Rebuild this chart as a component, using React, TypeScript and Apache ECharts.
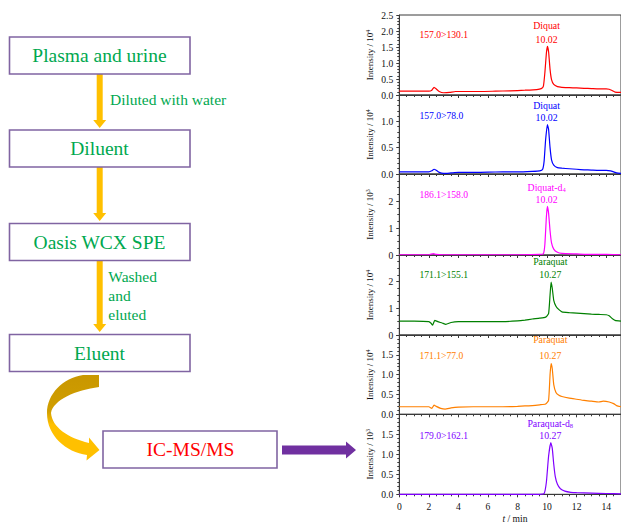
import React, { useEffect, useRef } from 'react';
import * as echarts from 'echarts';

const SERIF = '"Liberation Serif", "Times New Roman", serif';

// ---------- chromatogram data: [t (min), intensity] ----------
const diquat130 = [
  [0, 0.12], [1, 0.12], [2, 0.12], [2.2, 0.15], [2.35, 0.24], [2.5, 0.19], [2.7, 0.11], [3.0, 0.07],
  [3.4, 0.08], [3.8, 0.11], [4.5, 0.11], [5.5, 0.11], [6.5, 0.12], [7.5, 0.13], [8.5, 0.15], [9.3, 0.17],
  [9.6, 0.2], [9.75, 0.28], [9.85, 0.7], [9.95, 1.3], [10.02, 1.52], [10.1, 1.35], [10.2, 0.8], [10.3, 0.48],
  [10.45, 0.33], [10.7, 0.26], [11, 0.24], [11.5, 0.23], [12, 0.22], [12.5, 0.21], [13, 0.2], [13.5, 0.19],
  [14, 0.19], [14.2, 0.18], [14.4, 0.14], [14.6, 0.09], [15, 0.08],
];
const diquat78 = [
  [0, 0.04], [1, 0.04], [2, 0.04], [2.2, 0.06], [2.35, 0.09], [2.5, 0.07], [2.7, 0.03], [3.0, 0.01],
  [3.5, 0.02], [4, 0.03], [5, 0.03], [6, 0.035], [7, 0.04], [8, 0.04], [9, 0.05], [9.5, 0.06], [9.7, 0.09],
  [9.8, 0.25], [9.9, 0.65], [10.02, 0.94], [10.1, 0.85], [10.2, 0.5], [10.3, 0.27], [10.45, 0.17],
  [10.7, 0.12], [11, 0.11], [11.5, 0.1], [12, 0.09], [12.5, 0.08], [13, 0.075], [13.5, 0.07], [14, 0.07],
  [14.3, 0.06], [14.5, 0.04], [14.7, 0.02], [15, 0.01],
];
const diquatD4 = [
  [0, 0.01], [2, 0.01], [2.3, 0.05], [2.5, 0.02], [3, 0.01], [5, 0.01], [8, 0.01], [9.5, 0.02], [9.75, 0.05],
  [9.85, 0.4], [9.95, 1.4], [10.02, 1.8], [10.1, 1.55], [10.2, 0.9], [10.3, 0.45], [10.45, 0.22], [10.7, 0.1],
  [11, 0.06], [12, 0.04], [13, 0.02], [14, 0.02], [15, 0.01],
];
const paraquat155 = [
  [0, 0.52], [1, 0.52], [2, 0.5], [2.15, 0.44], [2.25, 0.37], [2.4, 0.55], [2.6, 0.5], [2.9, 0.45], [3.15, 0.4],
  [3.5, 0.47], [4, 0.5], [5, 0.5], [6, 0.5], [7, 0.5], [8, 0.53], [8.5, 0.56], [9, 0.6], [9.5, 0.63], [9.9, 0.67],
  [10.1, 0.8], [10.2, 1.5], [10.27, 1.98], [10.35, 1.75], [10.45, 1.3], [10.6, 1.08], [10.8, 0.95], [11, 0.87],
  [11.5, 0.84], [12, 0.82], [12.5, 0.8], [13, 0.78], [13.5, 0.77], [14, 0.76], [14.2, 0.72], [14.4, 0.62],
  [14.6, 0.55], [15, 0.52],
];
const paraquat77 = [
  [0, 0.19], [1, 0.19], [2, 0.19], [2.2, 0.15], [2.35, 0.23], [2.5, 0.2], [2.8, 0.15], [3.1, 0.13], [3.5, 0.16],
  [4, 0.18], [5, 0.19], [6, 0.19], [7, 0.19], [8, 0.2], [8.5, 0.21], [9, 0.22], [9.5, 0.24], [9.9, 0.26],
  [10.1, 0.35], [10.2, 1.0], [10.27, 1.28], [10.35, 1.15], [10.45, 0.75], [10.6, 0.55], [10.8, 0.48], [11, 0.45],
  [11.5, 0.41], [12, 0.38], [12.5, 0.35], [13, 0.33], [13.5, 0.31], [13.8, 0.33], [14.2, 0.31], [14.5, 0.27],
  [14.7, 0.22], [15, 0.19],
];
const paraquatD8 = [
  [0, 0], [2, 0], [4, 0], [6, 0], [8, 0], [9.5, 0], [9.8, 0.02], [9.95, 0.3], [10.1, 0.95], [10.25, 1.29],
  [10.35, 1.15], [10.45, 0.75], [10.55, 0.45], [10.7, 0.25], [10.9, 0.14], [11.2, 0.08], [11.6, 0.05], [12, 0.04],
  [13, 0.03], [14, 0.02], [15, 0.01],
];

const panelData = [diquat130, diquat78, diquatD4, paraquat155, paraquat77, paraquatD8];
const panelColors = ['#FF0000', '#0000FF', '#FF00FF', '#008000', '#FF8000', '#8000FF'];
const panelMax = [2.5, 1.5, 3, 3, 2, 2];
const panelInterval = [0.5, 0.5, 1, 1, 0.5, 0.5];
const panelDecimals = [1, 1, 0, 0, 1, 1];
const panelExponent = ['4', '4', '3', '4', '4', '3'];
const transitions = ['157.0>130.1', '157.0>78.0', '186.1>158.0', '171.1>155.1', '171.1>77.0', '179.0>162.1'];
const analyteNames = ['Diquat', 'Diquat', 'Diquat-d', 'Paraquat', 'Paraquat', 'Paraquat-d'];
const analyteSubs = ['', '', '4', '', '', '8'];
const retentionTimes = ['10.02', '10.02', '10.02', '10.27', '10.27', '10.27'];

const flowSteps = ['Plasma and urine', 'Diluent', 'Oasis WCX SPE', 'Eluent'];
const instrumentStep = 'IC-MS/MS';
const stepNotes = ['Diluted with water', 'Washed\nand\neluted'];

// ---------- layout ----------
const GRID_LEFT = 399.3;
const GRID_WIDTH = 222;
const PX_PER_MIN = 14.7;
const gridTops = [15, 95, 174, 255, 335, 414.3];
const gridHeights = [80, 79, 81, 80, 79.3, 80];
const nameDy = [10.7, 10, 13.7, 6.7, 4.5, 8.7];
const rtDy = [24, 22.7, 25, 19.3, 20.5, 21];
const transDy = [19, 20, 20.3, 19.3, 20, 21];

const ARROW_PATH =
  'M 83 375 L 99 375 L 99 387 C 76 390 53 400 51 413 C 52 427 68 438 89 443 L 89 437.5 L 99.5 450 L 86.5 460.5 L 87 455 C 66 452 47 436 47 413 C 47 394 63 378 83 375 Z';
echarts.graphic.registerShape('curvedArrow', echarts.graphic.extendPath(ARROW_PATH, {}));

function vArrow(cx: number, y0: number, y1: number, color: string) {
  return {
    type: 'polygon',
    shape: {
      points: [
        [cx - 3, y0], [cx + 3, y0], [cx + 3, y1 - 8], [cx + 6.5, y1 - 8], [cx, y1],
        [cx - 6.5, y1 - 8], [cx - 3, y1 - 8],
      ],
    },
    style: { fill: color },
  };
}

function box(x: number, y: number, w: number, h: number) {
  return {
    type: 'rect',
    shape: { x, y, width: w, height: h },
    style: { fill: '#fff', stroke: '#8064A2', lineWidth: 1.6 },
  };
}

function label(text: string, x: number, y: number, size: number, color: string, align = 'center') {
  return {
    type: 'text',
    x,
    y,
    style: {
      text,
      fontSize: size,
      fontFamily: SERIF,
      fill: color,
      align,
      verticalAlign: 'middle',
      textAlign: align,
      textVerticalAlign: 'middle',
    },
  };
}

export default function App() {
  const ref = useRef<HTMLDivElement>(null);
  useEffect(() => {
    if (!ref.current) return;
    const chart = echarts.init(ref.current, undefined, { renderer: 'svg' });

    const GREEN = '#00A84F';
    const boxTops = [37, 130, 223.5, 334.5];
    const graphic: any[] = [];
    // straight arrows
    graphic.push(vArrow(99.7, 74, 128, '#FFC000'));
    graphic.push(vArrow(99.7, 167, 221, '#FFC000'));
    graphic.push(vArrow(99.7, 261, 332, '#FFC000'));
    // curved arrow
    graphic.push({
      type: 'curvedArrow',
      x: 0,
      y: 0,
      style: {
        fill: new echarts.graphic.LinearGradient(0, 0, 0, 1, [
          { offset: 0, color: '#C99700' },
          { offset: 0.42, color: '#D09E00' },
          { offset: 0.58, color: '#FFC000' },
          { offset: 1, color: '#FFC000' },
        ]),
      },
    });
    // purple arrow
    graphic.push({
      type: 'polygon',
      shape: {
        points: [[282, 445.5], [346, 445.5], [346, 441.5], [356, 450], [346, 458.5], [346, 454.5], [282, 454.5]],
      },
      style: { fill: '#7030A0' },
    });
    // boxes
    flowSteps.forEach((s, i) => {
      graphic.push(box(9.5, boxTops[i], 180.5, 37));
      graphic.push(label(s, 99.5, boxTops[i] + 18.8, 19.5, GREEN));
    });
    graphic.push(box(103, 431, 174, 37));
    graphic.push(label(instrumentStep, 190.5, 449.5, 19.5, '#FF0000'));
    // notes
    graphic.push(label(stepNotes[0], 110, 99, 15.5, GREEN, 'left'));
    stepNotes[1].split('\n').forEach((line, k) => {
      graphic.push(label(line, 108.3, 276.7 + k * 18.7, 15.5, GREEN, 'left'));
    });

    // chromatogram annotations
    panelData.forEach((_, i) => {
      const top = gridTops[i];
      graphic.push(label(transitions[i], 419.5, top + transDy[i], 9.6, panelColors[i], 'left'));
      const rtNum = parseFloat(retentionTimes[i]);
      const cx = GRID_LEFT + rtNum * PX_PER_MIN;
      graphic.push({
        type: 'text',
        x: cx,
        y: top + nameDy[i],
        style: {
          text: analyteSubs[i] ? `{a|${analyteNames[i]}}{b|${analyteSubs[i]}}` : `{a|${analyteNames[i]}}`,
          rich: {
            a: { fontSize: 9.8, fontFamily: SERIF, fill: panelColors[i], color: panelColors[i] },
            b: { fontSize: 6.5, fontFamily: SERIF, fill: panelColors[i], color: panelColors[i], verticalAlign: 'bottom', padding: [4, 0, 0, 0] },
          },
          align: 'center',
          verticalAlign: 'middle',
          textAlign: 'center',
          textVerticalAlign: 'middle',
        },
      });
      graphic.push(label(retentionTimes[i], cx, top + rtDy[i], 9.8, panelColors[i]));
    });
    // x axis title
    graphic.push({
      type: 'text',
      x: 515,
      y: 518.5,
      style: {
        text: '{i|t} / min',
        rich: { i: { fontStyle: 'italic', fontSize: 9.6, fontFamily: SERIF, fill: '#111', color: '#111' } },
        fontSize: 9.6,
        fontFamily: SERIF,
        fill: '#111',
        align: 'center',
        verticalAlign: 'middle',
        textAlign: 'center',
        textVerticalAlign: 'middle',
      },
    });

    const AX = '#3a3a3a';
    const grids = panelData.map((_, i) => ({
      left: GRID_LEFT,
      top: gridTops[i],
      width: GRID_WIDTH,
      height: gridHeights[i],
      show: true,
      borderColor: AX,
      borderWidth: 1,
      backgroundColor: 'transparent',
      containLabel: false,
    }));
    const xAxes = panelData.map((_, i) => ({
      type: 'value',
      gridIndex: i,
      min: 0,
      max: 15,
      interval: 2,
      axisLine: { show: true, onZero: false, lineStyle: { color: AX, width: 1 } },
      axisTick: { show: true, length: 3, lineStyle: { color: AX } },
      minorTick: { show: true, splitNumber: 4, length: 2, lineStyle: { color: AX } },
      splitLine: { show: false },
      minorSplitLine: { show: false },
      axisLabel: {
        show: i === panelData.length - 1,
        fontFamily: SERIF,
        fontSize: 9.6,
        color: '#111',
        margin: 7,
        showMaxLabel: false,
      },
    }));
    const yAxes = panelData.map((_, i) => ({
      type: 'value',
      gridIndex: i,
      min: 0,
      max: panelMax[i],
      interval: panelInterval[i],
      axisLine: { show: true, onZero: false, lineStyle: { color: AX, width: 1 } },
      axisTick: { show: true, length: 3, lineStyle: { color: AX } },
      minorTick: { show: true, splitNumber: panelInterval[i] === 1 ? 4 : 5, length: 2, lineStyle: { color: AX } },
      splitLine: { show: false },
      minorSplitLine: { show: false },
      axisLabel: {
        fontFamily: SERIF,
        fontSize: 9.6,
        color: '#111',
        margin: 6,
        showMaxLabel: i === 0,
        formatter: (v: number) => v.toFixed(panelDecimals[i]),
      },
      name: `{a|Intensity / 10}{s|${panelExponent[i]}}`,
      nameLocation: 'middle',
      nameRotate: 90,
      nameGap: 24,
      nameTextStyle: {
        rich: {
          a: { fontSize: 9, fontFamily: SERIF, color: '#111' },
          s: { fontSize: 6, fontFamily: SERIF, color: '#111', verticalAlign: 'top', padding: [0, 0, 4, 0] },
        },
      },
    }));
    const series = panelData.map((d, i) => ({
      type: 'line',
      xAxisIndex: i,
      yAxisIndex: i,
      data: d,
      showSymbol: false,
      symbol: 'none',
      smooth: 0.15,
      lineStyle: { color: panelColors[i], width: 1.2 },
      itemStyle: { color: panelColors[i] },
      clip: true,
      silent: true,
    }));

    chart.setOption({
      animation: false,
      backgroundColor: '#ffffff',
      grid: grids,
      xAxis: xAxes,
      yAxis: yAxes,
      series,
      graphic,
    });
    return () => chart.dispose();
  }, []);

  return (
    <div
      ref={ref}
      style={{ position: 'absolute', left: 0, top: 0, width: 621, height: 523, background: '#fff' }}
    />
  );
}
